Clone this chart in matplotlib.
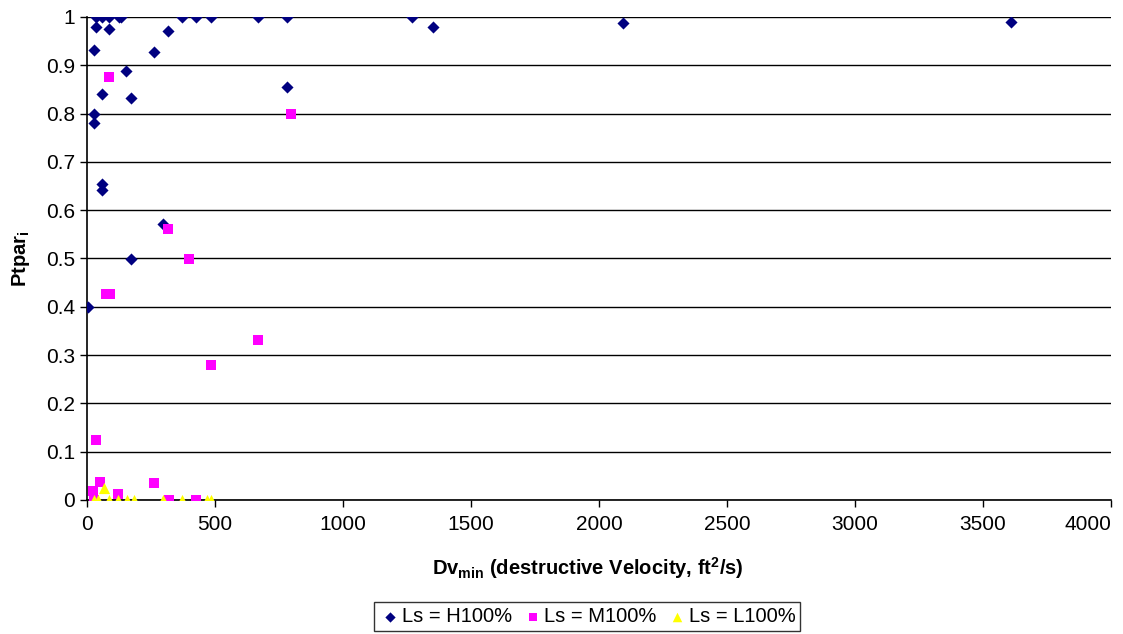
import matplotlib.pyplot as plt

plt.rcParams['font.family'] = ['Liberation Sans', 'DejaVu Sans']

# Ls = H100%
h_x = [34, 57, 87, 125, 132, 372, 427, 486, 667, 781, 1268, 1353, 2092, 3608,
       34, 87, 27, 316, 263, 154, 57, 173, 781, 27, 27, 57, 57, 298, 172, 5]
h_y = [1.0, 1.0, 1.0, 1.0, 1.0, 1.0, 1.0, 1.0, 1.0, 1.0, 1.0, 0.979, 0.987, 0.99,
       0.980, 0.976, 0.932, 0.970, 0.928, 0.888, 0.841, 0.833, 0.856, 0.799, 0.781,
       0.655, 0.641, 0.571, 0.498, 0.40]

# Ls = M100%
m_x = [87, 797, 315, 397, 73, 90, 667, 484, 35, 49, 25, 122, 262, 320, 427, 27]
m_y = [0.875, 0.799, 0.562, 0.498, 0.427, 0.427, 0.332, 0.28, 0.124, 0.037,
       0.019, 0.012, 0.036, 0.0, 0.0, 0.0]

# Ls = L100%
l_x = [66, 27, 43, 86, 121, 157, 184, 298, 370, 467, 483]
l_y = [0.024, 0, 0, 0, 0, 0, 0, 0, 0, 0, 0]

fig = plt.figure(figsize=(11.23, 6.34), dpi=100)
ax = fig.add_axes([0.0775, 0.2114, 0.9118, 0.7618])

ax.scatter(h_x, h_y, marker='D', s=38, color='#000080', label='Ls = H100%', zorder=3, linewidths=0)
ax.scatter(m_x, m_y, marker='s', s=50, color='#FF00FF', label='Ls = M100%', zorder=3, linewidths=0)
ax.scatter(l_x, l_y, marker='^', s=65, color='#FFFF00', label='Ls = L100%', zorder=3, linewidths=0)

ax.set_xlim(0, 4000)
ax.set_ylim(0, 1)
ax.set_xticks(range(0, 4001, 500))
ax.set_yticks([i / 10 for i in range(11)])
ax.set_yticklabels(['0', '0.1', '0.2', '0.3', '0.4', '0.5', '0.6', '0.7', '0.8', '0.9', '1'])
ax.tick_params(labelsize=15, direction='out', length=5, width=1, color='black')
ax.tick_params(axis='x', pad=6)
ax.get_xticklabels()[-1].set_horizontalalignment('right')
ax.yaxis.grid(True, color='black', linewidth=1)
ax.set_axisbelow(True)
for s in ['top', 'right']:
    ax.spines[s].set_visible(False)
for s in ['left', 'bottom']:
    ax.spines[s].set_linewidth(1.2)

ax.set_xlabel('Dv$_{\\mathregular{min}}$ (destructive Velocity, ft$^{\\mathregular{2}}$/s)',
              fontsize=14.5, fontweight='bold')
ax.xaxis.set_label_coords(0.489, -0.115)
ax.set_ylabel('Ptpar$_{\\mathregular{i}}$', fontsize=14.5, fontweight='bold', labelpad=10)

leg = fig.legend(loc='center', bbox_to_anchor=(0.523, 0.027), ncol=3, fontsize=14.5,
                 frameon=True, fancybox=False, edgecolor='black', handletextpad=0.0,
                 handlelength=1.1, columnspacing=0.5, borderpad=0.25,
                 markerscale=0.85, scatterpoints=1)
leg.get_frame().set_linewidth(1)

fig.savefig('out.png', dpi=100)
